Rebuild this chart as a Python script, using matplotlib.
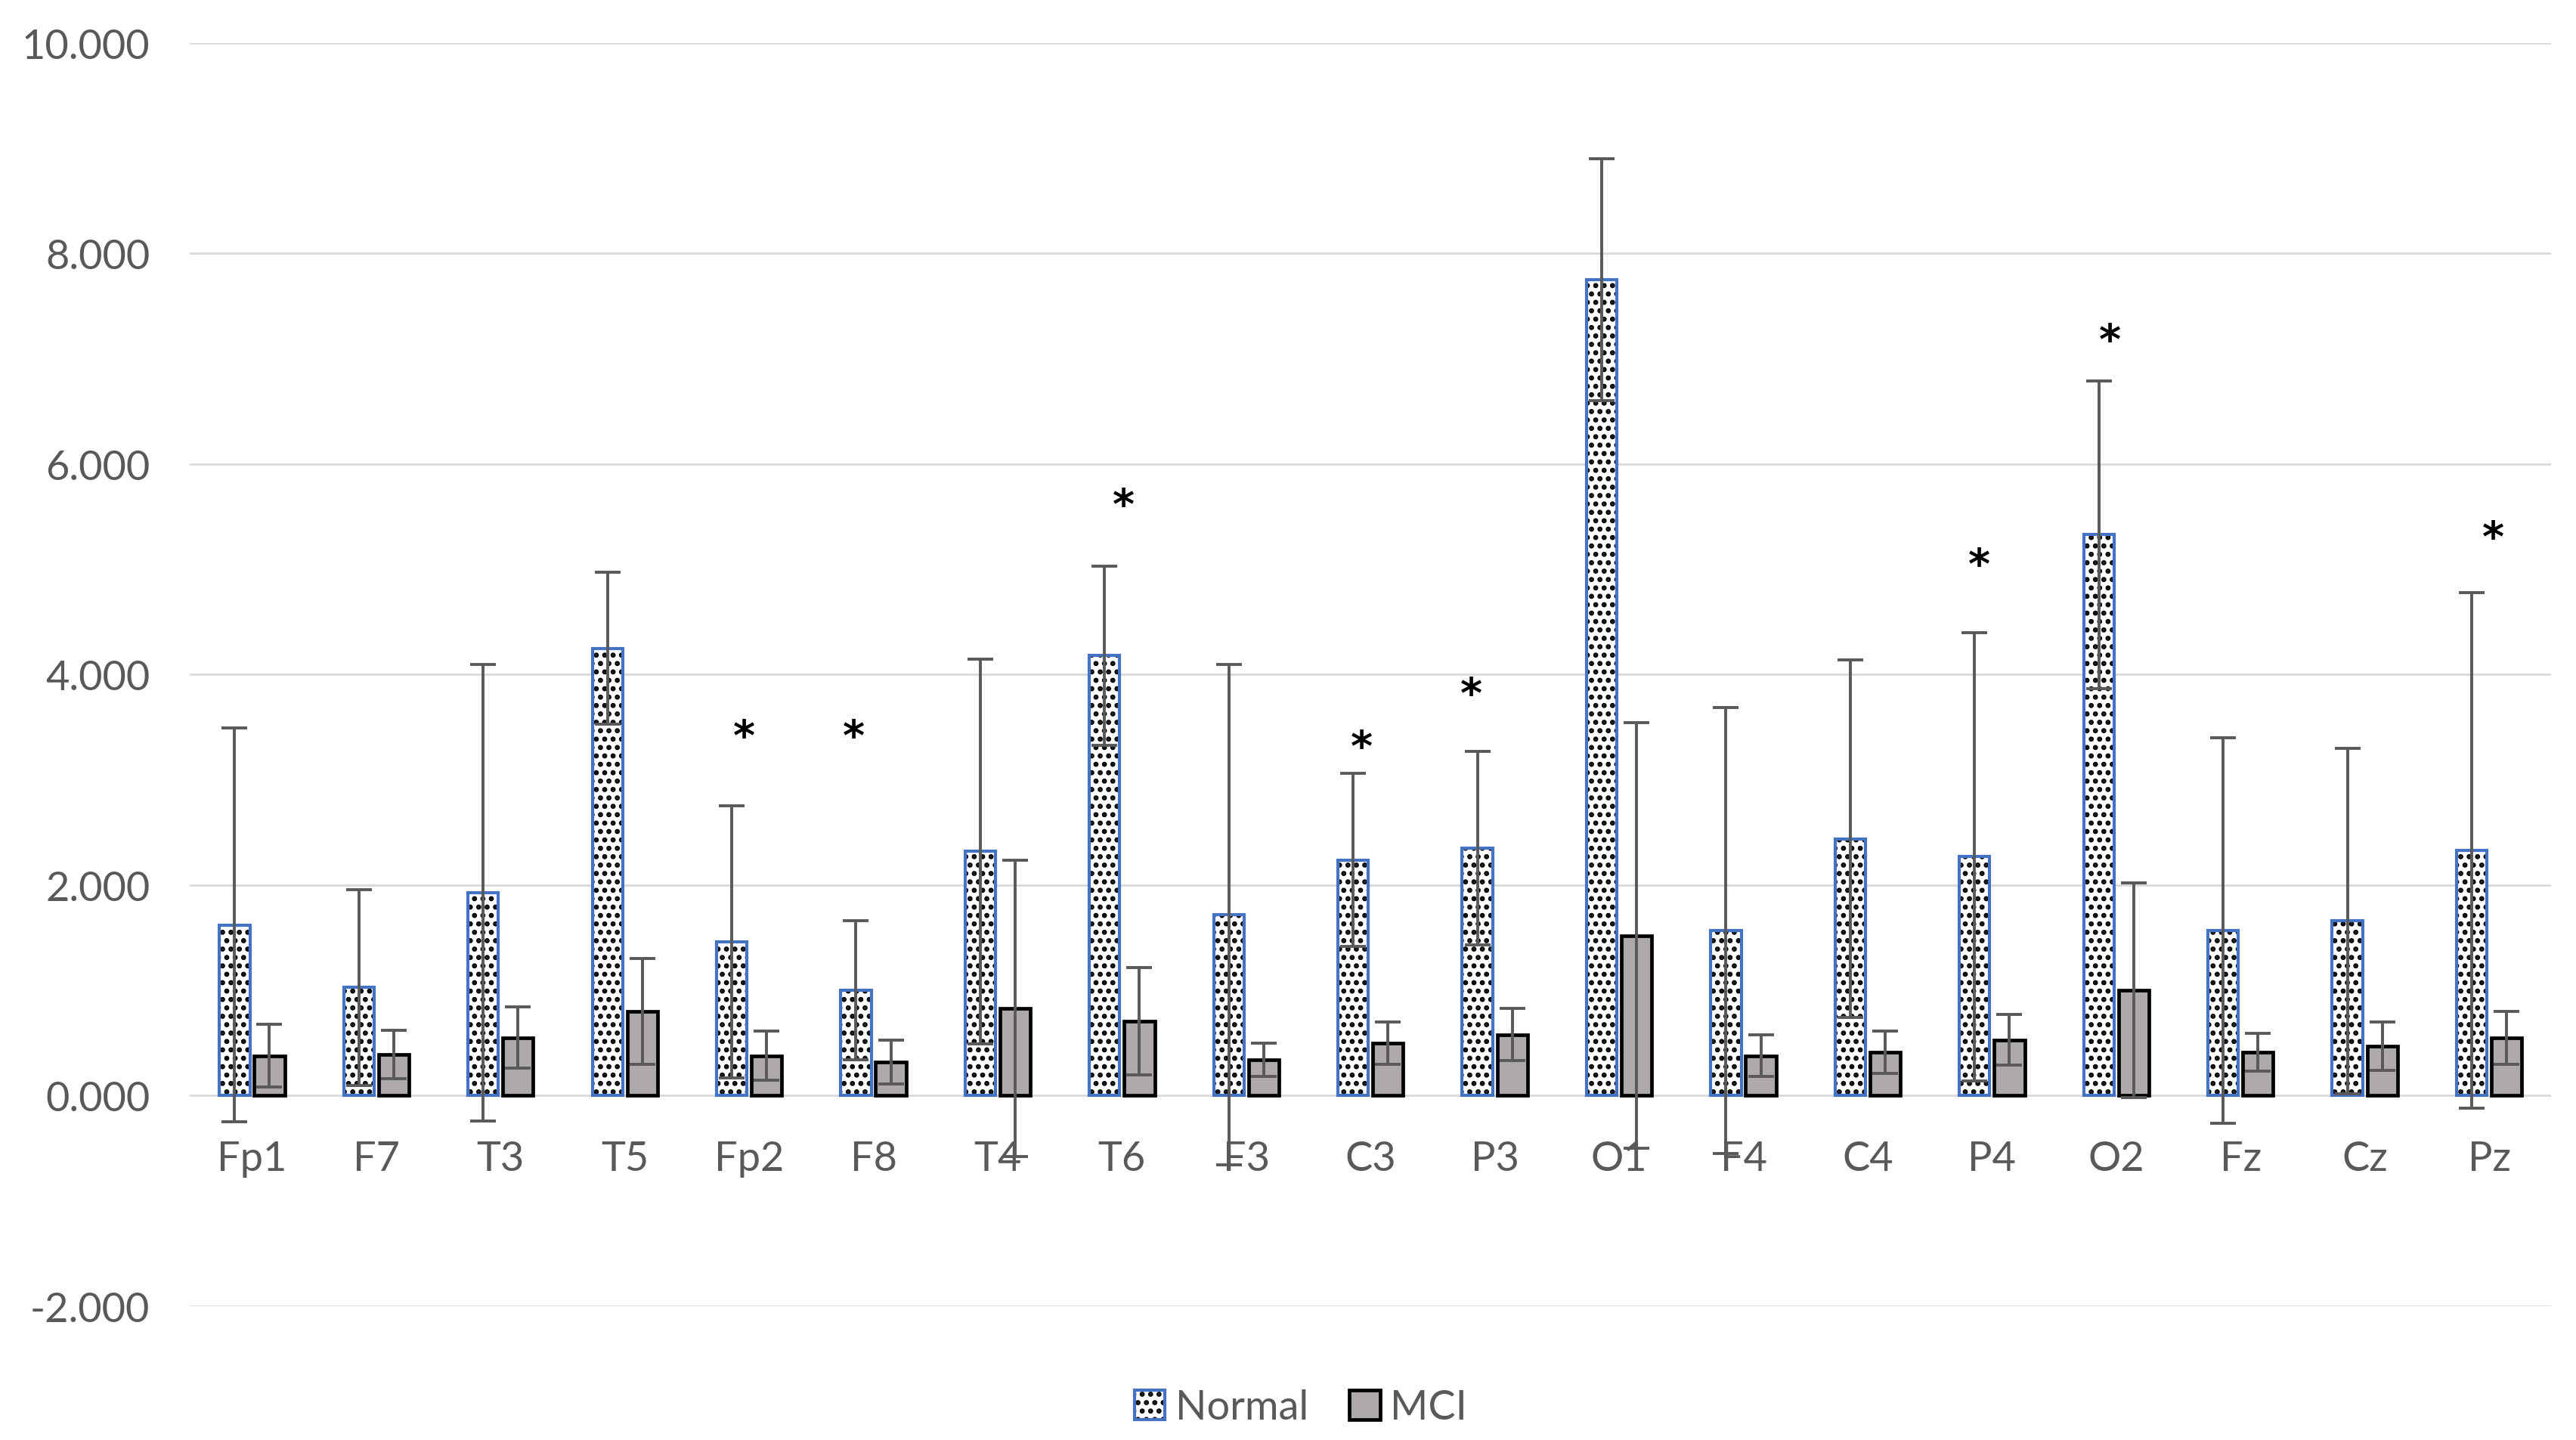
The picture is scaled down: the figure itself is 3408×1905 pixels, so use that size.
import numpy as np
import matplotlib.pyplot as plt
from matplotlib.patches import Patch

# channel means and SDs
channels = ['Fp1', 'F7', 'T3', 'T5', 'Fp2', 'F8', 'T4', 'T6', 'F3', 'C3',
            'P3', 'O1', 'F4', 'C4', 'P4', 'O2', 'Fz', 'Cz', 'Pz']
normal_mean = [1.62, 1.03, 1.93, 4.25, 1.46, 1.00, 2.32, 4.18, 1.72, 2.24,
               2.35, 7.75, 1.57, 2.44, 2.27, 5.33, 1.57, 1.66, 2.33]
normal_sd = [1.87, 0.93, 2.17, 0.72, 1.29, 0.66, 1.83, 0.85, 2.38, 0.82,
             0.92, 1.15, 2.12, 1.70, 2.13, 1.46, 1.83, 1.64, 2.45]
mci_mean = [0.38, 0.39, 0.55, 0.80, 0.38, 0.32, 0.83, 0.71, 0.34, 0.50,
            0.58, 1.52, 0.38, 0.41, 0.53, 1.00, 0.41, 0.47, 0.55]
mci_sd = [0.30, 0.23, 0.29, 0.50, 0.23, 0.21, 1.41, 0.51, 0.16, 0.20,
          0.25, 2.02, 0.20, 0.20, 0.24, 1.02, 0.18, 0.23, 0.25]

# significance marks: channel, height, small x shift (category units)
star_channels = ['Fp2', 'F8', 'T6', 'C3', 'P3', 'P4', 'O2', 'Pz']
star_y = [3.40, 3.40, 5.60, 3.30, 3.80, 5.03, 7.16, 5.29]
star_dx = [-0.04, -0.16, 0.01, -0.07, -0.19, -0.10, -0.05, 0.03]

plt.rcParams['font.family'] = ['Lato', 'DejaVu Sans']
plt.rcParams['hatch.linewidth'] = 1.6
txt = '#595959'

fig = plt.figure(figsize=(17.04, 9.53), dpi=200)
ax = fig.add_axes([0.0737, 0.0929, 0.9167, 0.8767])

x = np.arange(len(channels))
w = 0.245
off = 0.14

ax.bar(x - off, normal_mean, w, color='white', edgecolor='black', lw=0,
       hatch='...', zorder=2)
ax.bar(x - off, normal_mean, w, fill=False, edgecolor='#4472C4', lw=1.5, zorder=3)
ax.bar(x + off, mci_mean, w, color='#AEAAAA', edgecolor='black', lw=1.7, zorder=3)

ax.errorbar(x - off, normal_mean, yerr=normal_sd, fmt='none', ecolor='#595959',
            elinewidth=1.4, capsize=6, capthick=1.4, zorder=4)
ax.errorbar(x + off, mci_mean, yerr=mci_sd, fmt='none', ecolor='#595959',
            elinewidth=1.4, capsize=6, capthick=1.4, zorder=4)

for ch, yy, dx in zip(star_channels, star_y, star_dx):
    i = channels.index(ch)
    ax.text(i + dx, yy, '*', ha='center', va='center', fontsize=20,
            fontweight='bold', family='DejaVu Sans', color='black', zorder=5)

ax.set_xlim(-0.5, len(channels) - 0.5)
ax.set_ylim(-2, 10)
ax.set_yticks(np.arange(-2, 10.1, 2))
ax.set_yticklabels(['%.3f' % v for v in np.arange(-2, 10.1, 2)])
ax.set_xticks(x)
ax.set_xticklabels(channels)

for s in ax.spines.values():
    s.set_visible(False)
ax.spines['bottom'].set_position(('data', 0))
ax.tick_params(axis='both', length=0, labelsize=19.5, colors=txt)
ax.tick_params(axis='x', pad=21)
ax.tick_params(axis='y', pad=19)
ax.yaxis.grid(True, color='#D9D9D9', lw=1.0)
ax.set_axisbelow(True)

h_norm = (Patch(facecolor='white', edgecolor='black', lw=0, hatch='...'),
          Patch(fill=False, edgecolor='#4472C4', lw=1.5))
h_mci = Patch(facecolor='#AEAAAA', edgecolor='black', lw=1.7)
fig.legend([h_norm, h_mci], ['Normal', 'MCI'], loc='center',
           bbox_to_anchor=(0.505, 0.0226), ncol=2, frameon=False,
           fontsize=19.5, labelcolor=txt, handlelength=0.75, handleheight=0.75,
           handletextpad=0.25, columnspacing=1.0)

fig.savefig('out.png', dpi=200)
